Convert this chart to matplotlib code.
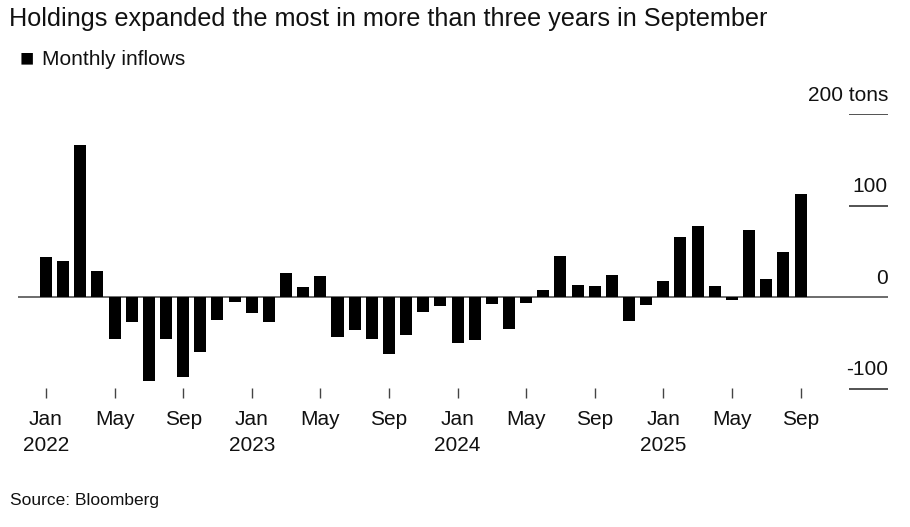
import matplotlib
matplotlib.use("Agg")
import matplotlib.pyplot as plt

plt.rcParams['font.family'] = ['Liberation Sans', 'DejaVu Sans']

# Flussi mensili (tonnellate), Jan 2022 - Sep 2025
months = ['Jan', 'Feb', 'Mar', 'Apr', 'May', 'Jun', 'Jul', 'Aug', 'Sep', 'Oct', 'Nov', 'Dec']
years = [2022, 2023, 2024, 2025]
inflows = [
    44, 40, 166, 29, -45, -27, -91, -45, -87, -60, -25, -5,      # 2022
    -17, -27, 27, 11, 23, -43, -36, -46, -62, -41, -16, -9,      # 2023
    -50, -47, -7, -35, -6, 8, 45, 13, 12, 24, -26, -8,           # 2024
    18, 66, 78, 12, -3, 74, 20, 50, 113,                         # 2025
]
y_ticks = [200, 100, 0, -100]
y_labels = ['200 tons', '100', '0', '-100']

x = list(range(len(inflows)))
tick_pos = [i for i in x if i % 4 == 0]
tick_lab = []
for i in tick_pos:
    m = months[i % 12]
    if i % 12 == 0:
        tick_lab.append(m + '\n' + str(years[i // 12]))
    else:
        tick_lab.append(m)

fig = plt.figure(figsize=(9.1, 5.27), dpi=100)
ax = fig.add_axes([0.0198, 0.2448, 0.956, 0.5383])

ax.bar(x, inflows, width=0.7, color='black', zorder=3)
ax.set_xlim(-1.63, 49.1)
ax.set_ylim(-110, 200)

# linea dello zero e tacche a destra
ax.axhline(0, color='#444444', lw=1.1, zorder=2)
for v, lab in zip(y_ticks, y_labels):
    if v != 0:
        ax.hlines(v, 46.8, 49.1, color='#444444', lw=1.3)
    ax.text(49.1, v + 15, lab, ha='right', va='baseline', fontsize=15, color='#111111')

for s in ax.spines.values():
    s.set_visible(False)
ax.set_yticks([])
ax.set_xticks(tick_pos)
ax.set_xticklabels(tick_lab, fontsize=15, color='#111111', linespacing=1.45)
ax.tick_params(axis='x', direction='in', length=7, width=1, color='#444444', pad=9)

fig.text(0.01, 0.963, 'Holdings expanded the most in more than three years in September',
         fontsize=18.2, color='#111111', va='center')
fig.text(0.022, 0.888, '\u25A0', fontsize=17, color='black', va='center')
fig.text(0.046, 0.888, 'Monthly inflows', fontsize=15, color='#111111', va='center')
fig.text(0.011, 0.05, 'Source: Bloomberg', fontsize=12.5, color='#111111', va='center')

plt.savefig('out.png', dpi=100)
